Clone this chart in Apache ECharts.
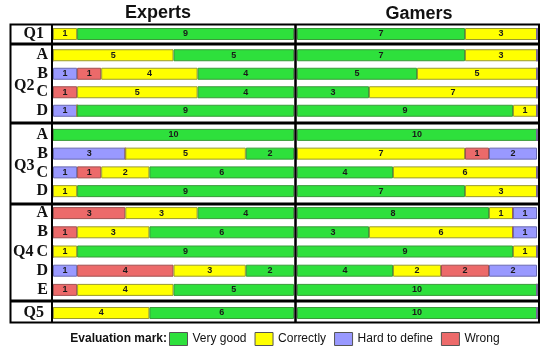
<!DOCTYPE html>
<html><head><meta charset="utf-8">
<script src="https://cdn.jsdelivr.net/npm/echarts@6/dist/echarts.min.js"></script>
<style>html,body{margin:0;padding:0;background:#fff}#c{width:550px;height:350px}</style>
</head><body><div id="c"></div>
<script>
// ---- data ----
const blockNames = ['Q1', 'Q2', 'Q3', 'Q4', 'Q5'];
const blockRows = [['Q1'], ['A', 'B', 'C', 'D'], ['A', 'B', 'C', 'D'], ['A', 'B', 'C', 'D', 'E'], ['Q5']];
const seriesNames = ['Very good', 'Correctly', 'Hard to define', 'Wrong'];
// rows: Q1, Q2A-D, Q3A-D, Q4A-E, Q5
const expVeryGood  = [9, 5, 4, 4, 9, 10, 2, 6, 9, 4, 6, 9, 2, 5, 6];
const expCorrectly = [1, 5, 4, 5, 0, 0, 5, 2, 1, 3, 3, 1, 3, 4, 4];
const expHard      = [0, 0, 1, 0, 1, 0, 3, 1, 0, 0, 0, 0, 1, 0, 0];
const expWrong     = [0, 0, 1, 1, 0, 0, 0, 1, 0, 3, 1, 0, 4, 1, 0];
const gamVeryGood  = [7, 7, 5, 3, 9, 10, 0, 4, 7, 8, 3, 9, 4, 10, 10];
const gamCorrectly = [3, 3, 5, 7, 1, 0, 7, 6, 3, 1, 6, 1, 2, 0, 0];
const gamHard      = [0, 0, 0, 0, 0, 0, 2, 0, 0, 1, 1, 0, 2, 0, 0];
const gamWrong     = [0, 0, 0, 0, 0, 0, 1, 0, 0, 0, 0, 0, 2, 0, 0];

// ---- styles / layout ----
const colors = {'Very good': '#2ee03c', 'Correctly': '#ffff00', 'Hard to define': '#9999ff', 'Wrong': '#ec6a6a'};
const borders = {'Very good': '#3a9a3a', 'Correctly': '#9a9a30', 'Hard to define': '#6a6ab0', 'Wrong': '#a05050'};
const blockTops = [24, 46, 125.5, 203.5, 303];
const blockHeights = [20, 74, 75, 96, 20];
const panels = [
  {left: 53, width: 241, order: ['Hard to define', 'Wrong', 'Correctly', 'Very good'],
   data: {'Very good': expVeryGood, 'Correctly': expCorrectly, 'Hard to define': expHard, 'Wrong': expWrong}},
  {left: 297, width: 240, order: ['Very good', 'Correctly', 'Wrong', 'Hard to define'],
   data: {'Very good': gamVeryGood, 'Correctly': gamCorrectly, 'Hard to define': gamHard, 'Wrong': gamWrong}}
];

const grids = [], xAxes = [], yAxes = [], series = [];
let gi = 0;
panels.forEach((p, pi) => {
  let start = 0;
  blockRows.forEach((rows, bi) => {
    grids.push({left: p.left, width: p.width, top: blockTops[bi], height: blockHeights[bi]});
    xAxes.push({gridIndex: gi, type: 'value', min: 0, max: 10, show: false});
    const single = rows.length === 1;
    yAxes.push({gridIndex: gi, type: 'category', data: rows, inverse: true,
      axisLine: {show: false}, axisTick: {show: false}, splitLine: {show: false},
      axisLabel: {show: pi === 0, interval: 0, margin: single ? 9 : 5, color: '#111', fontFamily: 'Liberation Serif',
        fontWeight: 'bold', fontSize: 16}});
    p.order.forEach(name => {
      series.push({name: name, type: 'bar', xAxisIndex: gi, yAxisIndex: gi, stack: 's' + gi,
        barWidth: 12, data: p.data[name].slice(start, start + rows.length),
        itemStyle: {color: colors[name], borderColor: borders[name], borderWidth: 1},
        label: {show: true, position: 'inside', color: '#1a1a1a', fontSize: 9, fontWeight: 'bold',
          fontFamily: 'Liberation Sans', formatter: d => d.value > 0 ? d.value : ''}});
    });
    start += rows.length;
    gi++;
  });
});

const hLine = y => ({type: 'line', z: 100, shape: {x1: 10, y1: y, x2: 539, y2: y}, style: {stroke: '#000', lineWidth: 3}});
const vLine = (x, w) => ({type: 'line', z: 100, shape: {x1: x, y1: 24, x2: x, y2: 323}, style: {stroke: '#000', lineWidth: w}});
const qText = (t, x, y) => ({type: 'text', z: 100, x: x, y: y, style: {text: t, fill: '#111',
  font: 'bold 16px "Liberation Serif"', textVerticalAlign: 'middle', textAlign: 'left'}});

const option = {
  backgroundColor: '#fff',
  animation: false,
  grid: grids, xAxis: xAxes, yAxis: yAxes, series: series,
  legend: {data: seriesNames, left: 164, top: 327, icon: 'rect', itemWidth: 18, itemHeight: 13, itemGap: 8,
    textStyle: {fontSize: 12, fontFamily: 'Liberation Sans', color: '#111'},
    itemStyle: {borderColor: '#555', borderWidth: 1}},
  graphic: [
    {type: 'rect', z: 100, shape: {x: 10.5, y: 24.5, width: 528.5, height: 298}, style: {fill: 'none', stroke: '#000', lineWidth: 2}},
    vLine(52, 2), vLine(295.5, 2.5),
    hLine(44), hLine(123), hLine(204), hLine(301),
    qText(blockNames[1], 14, 86), qText(blockNames[2], 14, 166), qText(blockNames[3], 13, 252),
    {type: 'text', x: 158, y: 13, style: {text: 'Experts', font: 'bold 18px "Liberation Sans"', fill: '#111', textAlign: 'center', textVerticalAlign: 'middle'}},
    {type: 'text', x: 419, y: 14, style: {text: 'Gamers', font: 'bold 18px "Liberation Sans"', fill: '#111', textAlign: 'center', textVerticalAlign: 'middle'}},
    {type: 'text', x: 167, y: 339, style: {text: 'Evaluation mark:', font: 'bold 12px "Liberation Sans"', fill: '#111', textAlign: 'right', textVerticalAlign: 'middle'}}
  ]
};
echarts.init(document.getElementById('c')).setOption(option);
</script></body></html>
